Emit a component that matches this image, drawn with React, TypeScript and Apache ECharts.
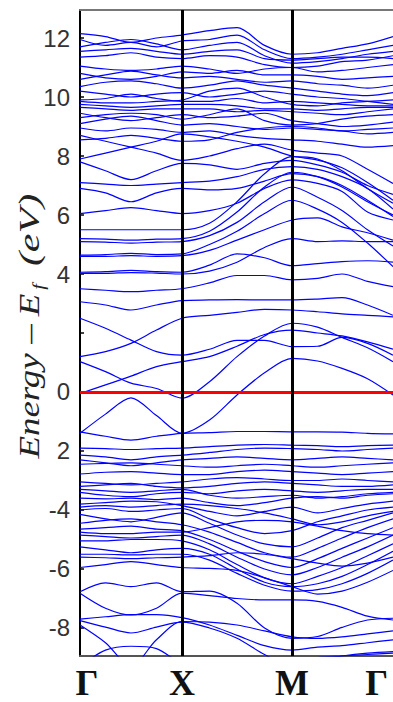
import { useEffect, useRef } from "react";
import * as echarts from "echarts";

// k-path sample positions (Γ = 0, X = 1.0, M = 2.08, crop end = 3.07)
const kPoints = [0, 0.25, 0.5, 0.75, 1.0, 1.27, 1.54, 1.81, 2.08, 2.33, 2.57, 2.82, 3.07];
const symmetryLabels = ["Γ", "X", "M", "Γ"];
const symmetryLabelPositions = [0, 1.0, 2.08, 2.91];
const symmetryLines = [1.0, 2.08];
const yTickValues = [-8, -6, -4, -2, 0, 2, 4, 6, 8, 10, 12];
const yLabelValues = [-8, -6, -4, -2, 0, 4, 6, 8, 10, 12];
const fermiLevel = 0;

// Energies (eV) at each k point
const upperBands: number[][] = [
  [12.15, 12.05, 11.85, 12.0, 12.1, 12.25, 12.35, 11.75, 11.45, 11.5, 11.65, 11.8, 12.05],
  [11.95, 11.75, 11.85, 11.7, 11.9, 11.95, 12.1, 11.6, 11.3, 11.35, 11.45, 11.6, 11.75],
  [11.7, 11.85, 11.95, 11.8, 11.6, 11.75, 11.85, 11.4, 11.15, 11.2, 11.3, 11.45, 11.55],
  [11.55, 11.6, 11.65, 11.55, 11.45, 11.55, 11.6, 11.3, 11.25, 11.3, 11.35, 11.35, 11.3],
  [11.35, 11.4, 11.5, 11.35, 11.3, 11.4, 11.35, 11.1, 11.0, 11.05, 11.2, 11.25, 11.4],
  [11.05, 10.95, 10.9, 10.95, 11.05, 10.95, 10.8, 10.95, 11.0, 10.85, 10.9, 11.0, 11.1],
  [10.8, 10.65, 10.6, 10.7, 10.85, 10.8, 10.9, 10.75, 10.75, 10.7, 10.6, 10.65, 10.7],
  [10.6, 10.75, 10.88, 10.75, 10.65, 10.7, 10.6, 10.5, 10.55, 10.45, 10.4, 10.3, 10.4],
  [10.35, 10.5, 10.55, 10.45, 10.3, 10.4, 10.55, 10.4, 10.3, 10.2, 10.1, 10.05, 10.15],
  [10.2, 10.1, 10.0, 10.1, 10.15, 10.0, 10.1, 10.2, 10.1, 10.0, 9.95, 9.85, 9.75],
  [9.9, 9.95, 10.1, 9.95, 9.85, 9.85, 9.95, 9.8, 9.85, 9.8, 9.75, 9.7, 9.7],
  [9.85, 9.8, 9.8, 9.85, 9.9, 10.2, 10.3, 10.0, 9.75, 9.7, 9.8, 9.85, 9.9],
  [9.75, 9.7, 9.65, 9.7, 9.75, 9.75, 9.7, 9.6, 9.6, 9.55, 9.6, 9.65, 9.65],
  [9.65, 9.6, 9.55, 9.6, 9.6, 9.6, 9.5, 9.55, 9.5, 9.45, 9.4, 9.5, 9.6],
  [9.45, 9.3, 9.2, 9.3, 9.4, 9.3, 9.35, 9.45, 9.2, 9.1, 9.0, 9.05, 9.15],
  [9.3, 9.4, 9.45, 9.4, 9.25, 9.4, 9.6, 9.2, 9.05, 9.1, 9.25, 9.35, 9.4],
  [9.1, 9.25, 9.35, 9.2, 9.05, 9.1, 9.0, 8.9, 8.95, 8.9, 8.85, 8.75, 8.8],
  [8.95, 8.85, 8.95, 8.9, 8.8, 8.85, 8.7, 8.6, 8.55, 8.5, 8.4, 8.3, 8.35],
  [8.55, 8.6, 8.7, 8.6, 8.5, 8.55, 8.8, 8.95, 9.0, 8.95, 8.85, 8.9, 8.95],
];

const midBands: number[][] = [
  [8.7, 8.5, 8.3, 8.1, 7.85, 8.0, 8.25, 8.4, 8.2, 8.1, 8.0, 7.55, 7.07],
  [7.9, 8.1, 8.3, 8.5, 8.75, 8.65, 8.5, 8.3, 8.0, 7.86, 7.6, 7.1, 6.5],
  [7.8, 7.5, 7.2, 7.5, 7.75, 7.7, 7.55, 7.75, 7.85, 7.7, 7.45, 7.0, 6.7],
  [7.1, 7.05, 7.0, 7.05, 7.1, 7.15, 7.3, 7.55, 7.64, 7.55, 7.3, 6.9, 6.2],
  [6.9, 6.75, 6.45, 6.75, 6.9, 6.85, 6.9, 7.15, 7.4, 7.3, 7.0, 6.5, 5.95],
  [6.05, 6.15, 6.25, 6.15, 6.05, 6.15, 6.4, 6.9, 7.19, 7.07, 6.8, 6.1, 5.83],
  [5.5, 5.5, 5.5, 5.5, 5.5, 5.72, 6.45, 7.4, 7.98, 7.9, 7.5, 6.9, 6.4],
  [5.2, 5.18, 5.15, 5.18, 5.2, 5.45, 6.1, 6.95, 7.45, 7.3, 6.95, 6.45, 6.0],
  [5.1, 5.08, 5.05, 5.08, 5.1, 5.3, 5.75, 6.45, 6.95, 6.6, 6.15, 5.5, 4.95],
  [4.64, 4.66, 4.7, 4.66, 4.68, 5.0, 5.45, 6.05, 6.5, 6.2, 5.75, 5.05, 4.25],
  [4.6, 4.6, 4.62, 4.6, 4.62, 4.8, 5.15, 5.5, 5.83, 5.9, 5.6, 5.4, 5.15],
  [4.06, 4.08, 4.12, 4.08, 4.06, 4.3, 4.68, 4.55, 4.28, 4.35, 4.42, 4.45, 4.4],
  [4.02, 4.02, 4.05, 4.03, 4.0, 4.1, 4.4, 4.9, 5.2, 5.1, 5.12, 5.1, 5.1],
  [3.5, 3.45, 3.4, 3.45, 3.5, 3.7, 3.95, 3.95, 3.8, 3.85, 4.0, 3.75, 3.57],
  [3.06, 2.95, 2.78, 2.95, 3.1, 3.12, 3.13, 3.12, 3.12, 3.15, 3.2, 2.95, 2.6],
];

const nearFermiBands: number[][] = [
  [2.5, 2.16, 1.76, 1.37, 1.25, 1.45, 1.75, 1.75, 1.54, 1.55, 1.85, 1.65, 1.25],
  [1.2, 1.37, 1.65, 2.1, 2.5, 2.6, 2.7, 2.8, 2.78, 2.72, 2.65, 2.6, 2.55],
  [1.03, 0.69, 0.3, 0.12, -0.21, 0.35, 1.2, 1.9, 2.33, 2.2, 1.85, 1.5, 1.03],
  [-0.05, 0.24, 0.54, 0.86, 1.03, 1.2, 1.55, 1.95, 2.1, 2.0, 1.9, 1.7, 1.45],
  [-1.4, -0.75, -0.2, -0.8, -1.4, -0.95, -0.1, 0.65, 1.14, 1.05, 0.8, 0.45, -0.1],
  [-1.35, -1.5, -1.63, -1.5, -1.4, -1.38, -1.34, -1.34, -1.35, -1.35, -1.36, -1.4, -1.42],
  [-1.9, -1.92, -1.95, -1.92, -1.9, -1.85, -1.8, -1.78, -1.8, -1.82, -1.85, -1.82, -1.8],
];

const valenceBands: number[][] = [
  [-2.14, -2.2, -2.3, -2.2, -2.14, -2.05, -1.95, -1.9, -1.92, -1.95, -2.0, -1.95, -1.9],
  [-2.3, -2.4, -2.5, -2.4, -2.3, -2.25, -2.2, -2.25, -2.3, -2.25, -2.2, -2.25, -2.3],
  [-2.45, -2.42, -2.4, -2.45, -2.5, -2.55, -2.5, -2.45, -2.5, -2.55, -2.5, -2.45, -2.4],
  [-2.78, -2.72, -2.7, -2.75, -2.8, -2.8, -2.7, -2.65, -2.7, -2.75, -2.8, -2.75, -2.7],
  [-3.05, -3.1, -3.15, -3.1, -3.05, -2.95, -2.9, -2.95, -3.0, -3.0, -2.95, -3.0, -3.05],
  [-3.2, -3.15, -3.1, -3.2, -3.25, -3.2, -3.1, -3.05, -3.1, -3.15, -3.2, -3.2, -3.15],
  [-3.3, -3.35, -3.4, -3.35, -3.3, -3.5, -3.6, -3.55, -3.5, -3.6, -3.55, -3.45, -3.4],
  [-3.4, -3.5, -3.55, -3.45, -3.4, -3.45, -3.35, -3.3, -3.35, -3.4, -3.35, -3.3, -3.3],
  [-3.6, -3.62, -3.6, -3.65, -3.6, -3.75, -3.85, -3.75, -3.6, -3.55, -3.6, -3.5, -3.45],
  [-3.8, -3.75, -3.7, -3.72, -3.85, -4.05, -4.2, -4.05, -3.9, -4.1, -3.95, -3.8, -3.7],
  [-3.9, -3.85, -3.9, -3.85, -3.8, -3.85, -3.95, -4.1, -4.3, -4.5, -4.4, -4.2, -4.05],
  [-4.0, -3.95, -4.05, -4.0, -3.95, -4.3, -4.6, -4.8, -4.7, -4.4, -4.2, -4.0, -3.9],
  [-4.15, -4.3, -4.4, -4.25, -4.1, -4.45, -4.85, -5.15, -5.25, -4.95, -4.6, -4.35, -4.1],
  [-4.45, -4.35, -4.3, -4.4, -4.5, -4.75, -5.1, -5.45, -5.6, -5.3, -4.95, -4.6, -4.3],
  [-4.65, -4.6, -4.55, -4.65, -4.7, -5.0, -5.4, -5.75, -5.95, -5.65, -5.3, -4.95, -4.6],
  [-4.75, -4.8, -4.8, -4.75, -4.75, -4.6, -4.4, -4.35, -4.4, -4.55, -4.7, -4.8, -4.85],
  [-4.85, -4.9, -4.95, -4.9, -4.85, -5.15, -5.6, -6.0, -6.2, -5.95, -5.6, -5.25, -4.85],
  [-5.05, -5.05, -5.0, -5.0, -5.05, -5.35, -5.85, -6.3, -6.5, -6.25, -5.95, -5.55, -5.15],
  [-5.25, -5.35, -5.45, -5.35, -5.3, -5.5, -6.0, -6.45, -6.6, -6.5, -6.25, -5.85, -5.4],
  [-5.5, -5.5, -5.52, -5.5, -5.5, -5.7, -6.15, -6.55, -6.75, -6.7, -6.5, -6.15, -5.7],
  [-5.6, -5.62, -5.65, -5.62, -5.6, -5.55, -5.45, -5.5, -5.65, -5.8, -5.9, -5.8, -5.6],
  [-5.95, -5.85, -5.75, -5.85, -5.95, -5.98, -6.05, -6.3, -6.6, -6.85, -6.75, -6.45, -6.05],
];

const deepBands: number[][] = [
  [-6.77, -6.47, -6.6, -6.47, -6.77, -6.75, -7.16, -8.0, -8.35, -8.29, -7.98, -7.73, -7.67],
  [-6.82, -7.33, -7.56, -7.33, -6.82, -6.9, -7.0, -7.05, -7.05, -7.1, -7.3, -7.6, -7.73],
  [-7.7, -7.62, -7.55, -7.55, -7.65, -7.9, -8.25, -8.6, -8.75, -8.65, -8.6, -8.5, -8.4],
  [-7.75, -7.97, -8.17, -7.97, -7.8, -8.0, -8.35, -8.9, -9.3, -9.1, -8.95, -8.85, -8.8],
  [-7.9, -8.5, -9.3, -8.4, -7.78, -7.8, -7.9, -8.1, -8.3, -8.35, -8.3, -8.2, -8.1],
  [-9.3, -8.75, -8.62, -8.7, -9.2, -9.3, -9.3, -9.2, -9.1, -9.0, -8.95, -8.9, -8.85],
];

const serif = '"Liberation Serif", "DejaVu Serif", serif';
const sans = '"Liberation Sans", Arial, sans-serif';

export default function App() {
  const ref = useRef<HTMLDivElement>(null);

  useEffect(() => {
    if (!ref.current) return;
    const chart = echarts.init(ref.current, null, { renderer: "svg" });
    const allBands = [...upperBands, ...midBands, ...nearFermiBands, ...valenceBands, ...deepBands];

    const bandSeries = allBands.map((band, i) => ({
      type: "line",
      name: `band ${i + 1}`,
      data: band.map((e, j) => [kPoints[j], e]),
      symbol: "none",
      showSymbol: false,
      smooth: 0.3,
      clip: true,
      silent: true,
      z: 2,
      lineStyle: { color: "#0000ff", width: 1.2 },
    }));

    const markerSeries = {
      type: "line",
      name: "markers",
      data: [[0, fermiLevel]],
      symbol: "none",
      showSymbol: false,
      lineStyle: { opacity: 0 },
      silent: true,
      z: 5,
      markLine: {
        symbol: "none",
        silent: true,
        label: { show: false },
        data: [
          { yAxis: fermiLevel, lineStyle: { color: "#ff0000", width: 3, type: "solid" } },
          ...symmetryLines.map((x) => ({ xAxis: x, lineStyle: { color: "#000000", width: 3, type: "solid" } })),
        ],
      },
    };

    const labelFor = (v: number) => {
      const idx = symmetryLabelPositions.findIndex((p) => Math.abs(p - v) < 1e-6);
      if (idx < 0) return "";
      if (idx === 0) return `{g|${symmetryLabels[idx]}}`;
      return symmetryLabels[idx];
    };

    const titleStyle = (text: string, size: number) => ({
      text,
      font: `italic ${size}px ${serif}`,
      fill: "#222",
      align: "center",
      verticalAlign: "middle",
    });

    chart.setOption({
      animation: false,
      backgroundColor: "#ffffff",
      grid: { left: 80, right: 0, top: 10, bottom: 46, containLabel: false },
      xAxis: [
        {
          type: "value",
          min: 0,
          max: 3.07,
          position: "bottom",
          axisLine: { show: true, onZero: false, lineStyle: { color: "#555", width: 2 } },
          axisTick: { show: false },
          splitLine: { show: false },
          axisLabel: {
            customValues: symmetryLabelPositions,
            formatter: labelFor,
            fontFamily: serif,
            fontWeight: "bold",
            fontSize: 36,
            lineHeight: 30,
            color: "#111",
            margin: 12,
            rich: {
              g: { fontFamily: serif, fontWeight: "bold", fontSize: 36, lineHeight: 30, color: "#111", padding: [0, 0, 0, 14] },
            },
          },
        },
        {
          type: "value",
          min: 0,
          max: 3.07,
          position: "top",
          axisLine: { show: true, onZero: false, lineStyle: { color: "#777", width: 2 } },
          axisTick: { show: false },
          axisLabel: { show: false },
          splitLine: { show: false },
        },
      ],
      yAxis: {
        type: "value",
        min: -8.95,
        max: 12.95,
        axisLine: { show: true, onZero: false, lineStyle: { color: "#000", width: 2 } },
        axisTick: {
          show: true,
          inside: true,
          length: 4,
          customValues: yTickValues,
          lineStyle: { color: "#000", width: 1.5 },
        },
        splitLine: { show: false },
        axisLabel: {
          customValues: yLabelValues,
          formatter: (v: number) => (v === -2 ? "2" : String(v)),
          fontFamily: sans,
          fontSize: 24,
          color: "#333",
          margin: 10,
        },
      },
      graphic: [
        { type: "text", x: 29, y: 406, rotation: Math.PI / 2, scaleX: 1.23, style: titleStyle("Energy", 30), silent: true },
        { type: "text", x: 29, y: 334, rotation: Math.PI / 2, scaleX: 1.3, style: titleStyle("–", 30), silent: true },
        { type: "text", x: 29, y: 305, rotation: Math.PI / 2, scaleX: 1.23, style: titleStyle("E", 30), silent: true },
        { type: "text", x: 38, y: 287, rotation: Math.PI / 2, scaleX: 1.2, style: titleStyle("f", 17), silent: true },
        { type: "text", x: 29, y: 230, rotation: Math.PI / 2, scaleX: 1.4, style: titleStyle("(eV)", 30), silent: true },
      ],
      series: [...bandSeries, markerSeries],
    });

    return () => chart.dispose();
  }, []);

  return <div ref={ref} style={{ position: "fixed", left: 0, top: 0, width: 393, height: 702 }} />;
}
